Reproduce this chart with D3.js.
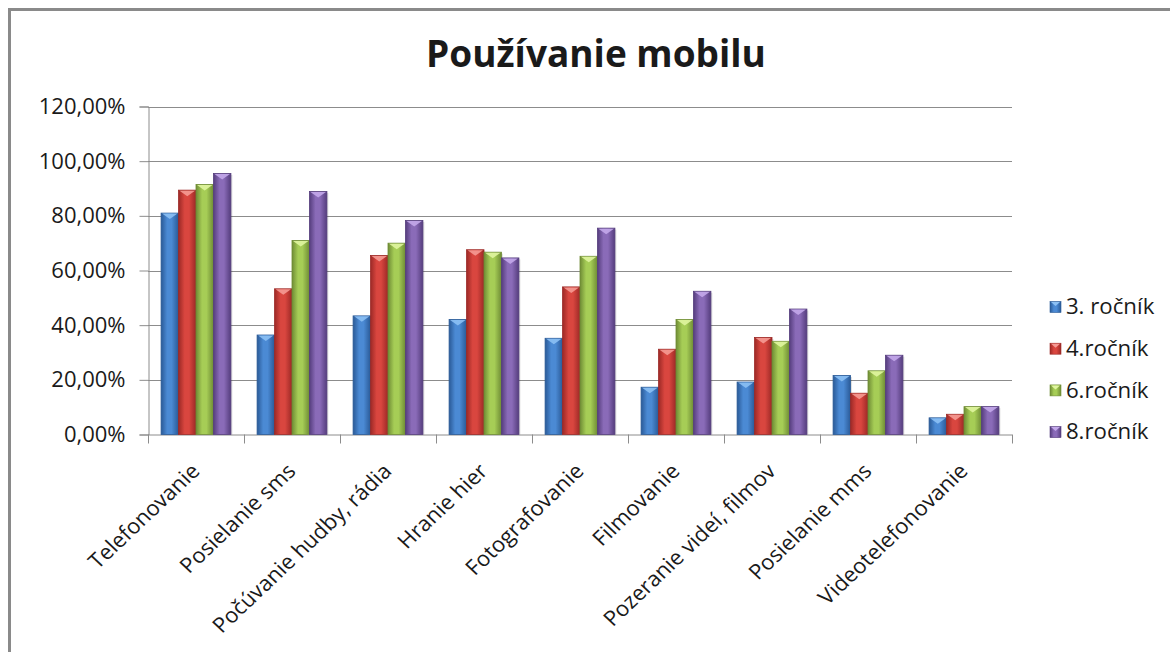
<!DOCTYPE html>
<html>
<head>
<meta charset="utf-8">
<script src="https://cdn.jsdelivr.net/npm/d3@7"></script>
<style>
  html, body { margin: 0; padding: 0; background: #fff; }
  svg { display: block; }
  text { font-family: "Open Sans", "Noto Sans", sans-serif; fill: #1a1a1a; }
</style>
</head>
<body>
<script>
// ---- data ----
const categories = ["Telefonovanie", "Posielanie sms", "Počúvanie hudby, rádia", "Hranie hier",
  "Fotografovanie", "Filmovanie", "Pozeranie videí, filmov", "Posielanie mms", "Videotelefonovanie"];
const seriesNames = ["3. ročník", "4.ročník", "6.ročník", "8.ročník"];
const rocnik3 = [0.81, 0.364, 0.434, 0.421, 0.352, 0.173, 0.192, 0.216, 0.061];
const rocnik4 = [0.894, 0.533, 0.655, 0.676, 0.54, 0.312, 0.355, 0.151, 0.074];
const rocnik6 = [0.915, 0.71, 0.70, 0.667, 0.652, 0.421, 0.341, 0.233, 0.102];
const rocnik8 = [0.955, 0.889, 0.783, 0.646, 0.755, 0.524, 0.459, 0.29, 0.102];
const yTicks = [0, 0.2, 0.4, 0.6, 0.8, 1.0, 1.2];
const title = "Používanie mobilu";

const seriesValues = [rocnik3, rocnik4, rocnik6, rocnik8];
const palette = [
  { dark: "#2a5a97", mid: "#4b8ad4", light: "#8cc0f4" },
  { dark: "#9c2926", mid: "#d9463f", light: "#f59a94" },
  { dark: "#6f8c35", mid: "#a6cd56", light: "#e0f5a0" },
  { dark: "#553d7d", mid: "#8a6bb8", light: "#c3a8ea" }
];

const W = 1170, H = 652;
const svg = d3.select("body").append("svg").attr("width", W).attr("height", H);
svg.append("rect").attr("width", W).attr("height", H).attr("fill", "#fff");

// outer frame
svg.append("rect").attr("x", 9.5).attr("y", 9.5).attr("width", 1300).attr("height", 800)
  .attr("fill", "none").attr("stroke", "#8a8a8a").attr("stroke-width", 3);

const defs = svg.append("defs");
palette.forEach((p, i) => {
  const g = defs.append("linearGradient").attr("id", "g" + i)
    .attr("x1", "0").attr("x2", "1").attr("y1", "0").attr("y2", "0");
  g.append("stop").attr("offset", "0").attr("stop-color", p.dark);
  g.append("stop").attr("offset", "0.35").attr("stop-color", p.mid);
  g.append("stop").attr("offset", "0.6").attr("stop-color", p.mid);
  g.append("stop").attr("offset", "1").attr("stop-color", p.dark);
});

const plot = { left: 148, right: 1012, top: 106.5, bottom: 434.5 };

const x = d3.scaleBand().domain(categories).range([plot.left, plot.right]).paddingInner(0).paddingOuter(0);
const x1 = d3.scaleBand().domain(d3.range(seriesNames.length)).range([0, x.bandwidth()])
  .paddingInner(0).paddingOuter(0.75);
const y = d3.scaleLinear().domain([0, 1.2]).range([plot.bottom, plot.top]);

const loc = d3.formatLocale({ decimal: ",", thousands: " ", grouping: [3], currency: ["", ""] });
const fmt = loc.format(".2%");

// gridlines
svg.append("g").selectAll("line").data(yTicks.filter(d => d > 0)).join("line")
  .attr("x1", plot.left).attr("x2", plot.right)
  .attr("y1", d => Math.round(y(d)) + 0.5).attr("y2", d => Math.round(y(d)) + 0.5)
  .attr("stroke", "#8c8c8c").attr("stroke-width", 1);

// y axis
const yAxis = d3.axisLeft(y).tickValues(yTicks).tickFormat(fmt).tickSize(9).tickPadding(14);
const gy = svg.append("g").attr("transform", `translate(${plot.left + 0.5},0)`).call(yAxis);
gy.select(".domain").attr("stroke", "#8c8c8c");
gy.selectAll(".tick line").attr("stroke", "#8c8c8c");
gy.selectAll(".tick text").attr("font-size", 22).attr("font-family", "'Open Sans', sans-serif")
  .attr("fill", "#1a1a1a");

// x axis line + boundary ticks
svg.append("line").attr("x1", plot.left).attr("x2", plot.right)
  .attr("y1", plot.bottom + 0.5).attr("y2", plot.bottom + 0.5).attr("stroke", "#8c8c8c");
const bounds = categories.map(c => x(c)).concat([plot.right]);
svg.append("g").selectAll("line").data(bounds).join("line")
  .attr("x1", d => Math.round(d) + 0.5).attr("x2", d => Math.round(d) + 0.5)
  .attr("y1", plot.bottom).attr("y2", plot.bottom + 9).attr("stroke", "#8c8c8c");

// bars
const groups = svg.append("g").selectAll("g").data(categories).join("g")
  .attr("transform", c => `translate(${x(c)},0)`);
groups.each(function (c, ci) {
  const g = d3.select(this);
  seriesValues.forEach((vals, si) => {
    const v = vals[ci];
    const bx = x1(si), bw = x1.bandwidth();
    const top = y(v), h = plot.bottom - top;
    g.append("rect").attr("x", bx + 1.5).attr("y", top + 1.5).attr("width", bw).attr("height", h - 1.5)
      .attr("fill", "#000").attr("opacity", 0.12);
    g.append("rect").attr("x", bx).attr("y", top).attr("width", bw).attr("height", h)
      .attr("fill", `url(#g${si})`).attr("stroke", palette[si].dark).attr("stroke-width", 0.8);
    g.append("path")
      .attr("d", `M${bx + 1},${top + 0.5}L${bx + bw - 1},${top + 0.5}L${bx + bw / 2},${top + 6}Z`)
      .attr("fill", palette[si].light).attr("opacity", 0.9);
  });
});

// x labels
svg.append("g").selectAll("text").data(categories).join("text")
  .attr("transform", c => `translate(${x(c) + x.bandwidth() / 2 + 5},${plot.bottom + 38}) scale(1.06,1) rotate(-45)`)
  .attr("text-anchor", "end")
  .attr("font-size", 21)
  .text(c => c);

// title
svg.append("text").attr("x", 596).attr("y", 67).attr("text-anchor", "middle")
  .attr("font-size", 37).attr("font-weight", "bold").text(title);

// legend
const legend = svg.append("g").selectAll("g").data(seriesNames).join("g")
  .attr("transform", (d, i) => `translate(1050,${307 + i * 41.7})`);
legend.append("rect").attr("x", 0).attr("y", -5.5).attr("width", 11).attr("height", 11)
  .attr("fill", (d, i) => `url(#g${i})`).attr("stroke", (d, i) => palette[i].dark).attr("stroke-width", 0.6);
legend.append("path").attr("d", "M1,-5L10,-5L5.5,-1Z").attr("fill", (d, i) => palette[i].light);
legend.append("text").attr("x", 15).attr("y", 0).attr("dy", "0.35em").attr("font-size", 21)
  .attr("transform", "scale(1.06,1)").text(d => d);
</script>
</body>
</html>
